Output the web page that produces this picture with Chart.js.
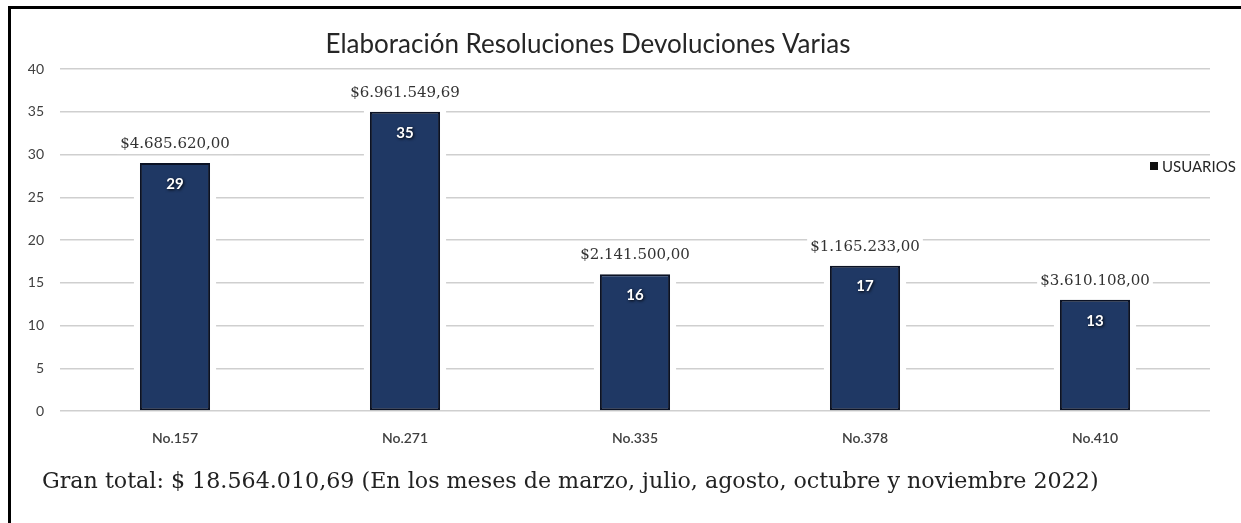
<!DOCTYPE html>
<html>
<head>
<meta charset="utf-8">
<script src="https://cdn.jsdelivr.net/npm/chart.js@4.4.0/dist/chart.umd.min.js"></script>
<style>
    html, body { margin: 0; padding: 0; background: #fff; }
    body { width: 1241px; height: 523px; position: relative; overflow: hidden; }
    #frame { position: absolute; left: 8px; top: 6px; width: 1260px; height: 560px;
             border-left: 3px solid #000; border-top: 3px solid #000; }
    #wrap { position: absolute; left: 0; top: 0; width: 1241px; height: 523px; }
    #total { position: absolute; left: 42px; top: 467px; font-family: "DejaVu Serif", serif;
             font-size: 22.2px; color: #222; white-space: nowrap; }
</style>
</head>
<body>
<div id="frame"></div>
<div id="wrap"><canvas id="resChart"></canvas></div>
<div id="total">Gran total: $ 18.564.010,69 (En los meses de marzo, julio, agosto, octubre y noviembre 2022)</div>
<script>
// datos
const resoluciones = ['No.157', 'No.271', 'No.335', 'No.378', 'No.410'];
const usuarios = [29, 35, 16, 17, 13];
const montos = [4685620.00, 6961549.69, 2141500.00, 1165233.00, 3610108.00];
const yTicks = [0, 5, 10, 15, 20, 25, 30, 35, 40];

function pesos(v) {
    const parts = v.toFixed(2).split('.');
    const ent = parts[0].replace(/\B(?=(\d{3})+(?!\d))/g, '.');
    return '$' + ent + ',' + parts[1];
}

// halo blanco alrededor de las barras (corta las lineas de la grilla)
const barHalo = {
    id: 'barHalo',
    beforeDatasetsDraw(chart) {
        const ctx = chart.ctx;
        const meta = chart.getDatasetMeta(0);
        ctx.save();
        ctx.fillStyle = '#fff';
        meta.data.forEach(function (bar) {
            const w = bar.width;
            ctx.fillRect(bar.x - w / 2 - 6, bar.y - 4, w + 12, bar.base - bar.y + 2);
        });
        ctx.restore();
    }
};

const extras = {
    id: 'extras',
    afterDraw(chart) {
        const ctx = chart.ctx;
        const meta = chart.getDatasetMeta(0);
        ctx.save();

        // titulo
        ctx.fillStyle = '#262626';
        ctx.font = '26px Lato';
        ctx.textAlign = 'center';
        ctx.textBaseline = 'middle';
        ctx.fillText('Elaboración Resoluciones Devoluciones Varias', 588, 45);

        // leyenda
        ctx.fillStyle = '#111';
        ctx.fillRect(1150, 162, 8, 8);
        ctx.fillStyle = '#262626';
        ctx.font = '15px Lato';
        ctx.textAlign = 'left';
        ctx.fillText('USUARIOS', 1162, 167);

        meta.data.forEach(function (bar, i) {
            // monto encima de la barra
            const txt = pesos(montos[i]);
            ctx.font = '15px "DejaVu Serif"';
            const tw = ctx.measureText(txt).width;
            const ty = bar.y - 19;
            ctx.fillStyle = '#fff';
            ctx.fillRect(bar.x - tw / 2 - 3, ty - 10, tw + 6, 20);
            ctx.fillStyle = '#333';
            ctx.textAlign = 'center';
            ctx.fillText(txt, bar.x, ty);

            // usuarios dentro de la barra
            ctx.font = 'bold 15px Lato';
            ctx.shadowColor = 'rgba(0,0,0,0.9)';
            ctx.shadowBlur = 3;
            ctx.shadowOffsetX = 1;
            ctx.shadowOffsetY = 1;
            ctx.fillStyle = '#fff';
            ctx.fillText(String(usuarios[i]), bar.x, bar.y + 21);
            ctx.shadowColor = 'transparent';
            ctx.shadowBlur = 0;
            ctx.shadowOffsetX = 0;
            ctx.shadowOffsetY = 0;
        });
        ctx.restore();
    }
};

const ctxRes = document.getElementById('resChart').getContext('2d');
const resChart = new Chart(ctxRes, {
    type: 'bar',
    data: {
        labels: resoluciones,
        datasets: [{
            label: 'USUARIOS',
            data: usuarios,
            backgroundColor: '#1f3864',
            borderColor: '#0b1224',
            borderWidth: 2,
            borderSkipped: false,
            categoryPercentage: 1,
            barPercentage: 0.305
        }]
    },
    options: {
        responsive: true,
        maintainAspectRatio: false,
        animation: false,
        layout: { padding: { left: 8, right: 31, top: 69, bottom: 72 } },
        plugins: {
            legend: { display: false },
            tooltip: { enabled: false }
        },
        scales: {
            x: {
                grid: { display: false },
                border: { display: false },
                ticks: {
                    color: '#404040',
                    font: { family: 'Lato', size: 14, weight: '600' },
                    padding: 11
                },
                afterFit: function (scale) { scale.height = 40; }
            },
            y: {
                min: 0,
                max: 40,
                afterBuildTicks: function (scale) {
                    scale.ticks = yTicks.map(function (v) { return { value: v }; });
                },
                grid: { color: '#cfcfcf', lineWidth: 1.5, drawTicks: false },
                border: { display: false },
                ticks: {
                    color: '#404040',
                    font: { family: 'Lato', size: 14 },
                    padding: 16
                },
                afterFit: function (scale) { scale.width = 52; }
            }
        }
    },
    plugins: [barHalo, extras]
});
</script>
</body>
</html>
